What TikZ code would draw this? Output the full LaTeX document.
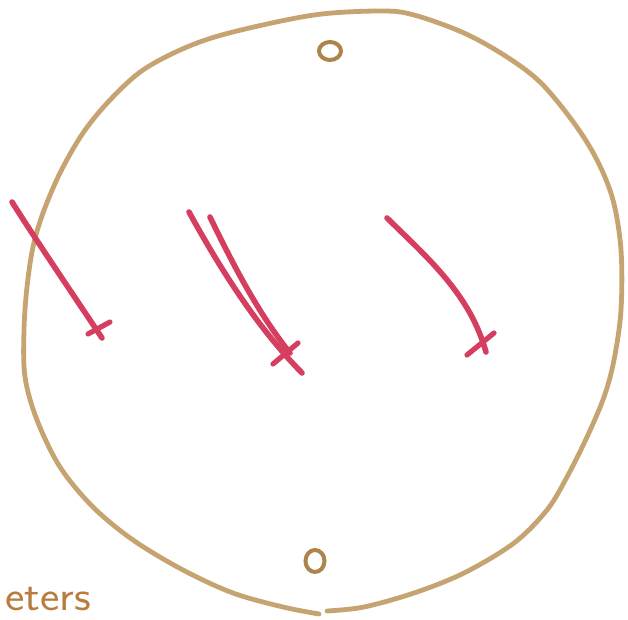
\documentclass[tikz,border=0pt]{standalone}
\usepackage{tikz}
\usetikzlibrary{positioning}
\definecolor{rimtan}{RGB}{198,164,114}
\definecolor{holebrown}{RGB}{172,132,76}
\definecolor{markred}{RGB}{214,62,96}
\definecolor{labelbrown}{RGB}{184,124,62}

\begin{document}
\begin{tikzpicture}[x=0.5pt,y=-0.5pt,
  rim/.style={rimtan,line width=2.4pt,line cap=round,line join=round},
  hole/.style={holebrown,line width=2pt},
  redstroke/.style={markred,line width=2.8pt,line cap=round},
  crossbar/.style={markred,line width=2.6pt,line cap=round}]
  \useasboundingbox (0,0) rectangle (628,620);
  \draw[rim] plot[smooth,tension=0.55] coordinates {(327,611) (364,607) (414,593) (464,573)
    (514,543) (547,510) (567,477) (587,437) (604,397) (614,360) (621,310) (621,250)
    (613,200) (597,160) (574,123) (541,83) (507,57) (464,33) (414,15) (381,11) (314,15)
    (233,32) (187,47) (143,70) (110,100) (83,133) (60,173) (43,213) (33,247) (27,287)
    (24,330) (25,377) (37,420) (60,467) (93,507) (133,540) (183,570) (233,593) (283,607)
    (319,614)};
  \draw[hole] (330,51) ellipse [x radius=11,y radius=9];
  \draw[hole] (315,561) ellipse [x radius=9.5,y radius=11];
  \draw[redstroke] (12,202) .. controls (36,240) and (70,290) .. (102,338);
  \draw[crossbar] (88,334) -- (110,322);
  \draw[redstroke] (189,212) .. controls (222,272) and (258,328) .. (302,373);
  \draw[redstroke] (210,217) .. controls (238,275) and (262,318) .. (290,353);
  \draw[crossbar] (273,364) -- (298,343);
  \draw[redstroke] (387,218) .. controls (430,260) and (470,295) .. (486,352);
  \draw[crossbar] (467,355) -- (494,333);
  \node[labelbrown,anchor=base west,inner sep=0pt,font=\sffamily\fontsize{21}{25}\selectfont,xscale=1.1] (unit) at (5,611) {eters};
\end{tikzpicture}
\end{document}
